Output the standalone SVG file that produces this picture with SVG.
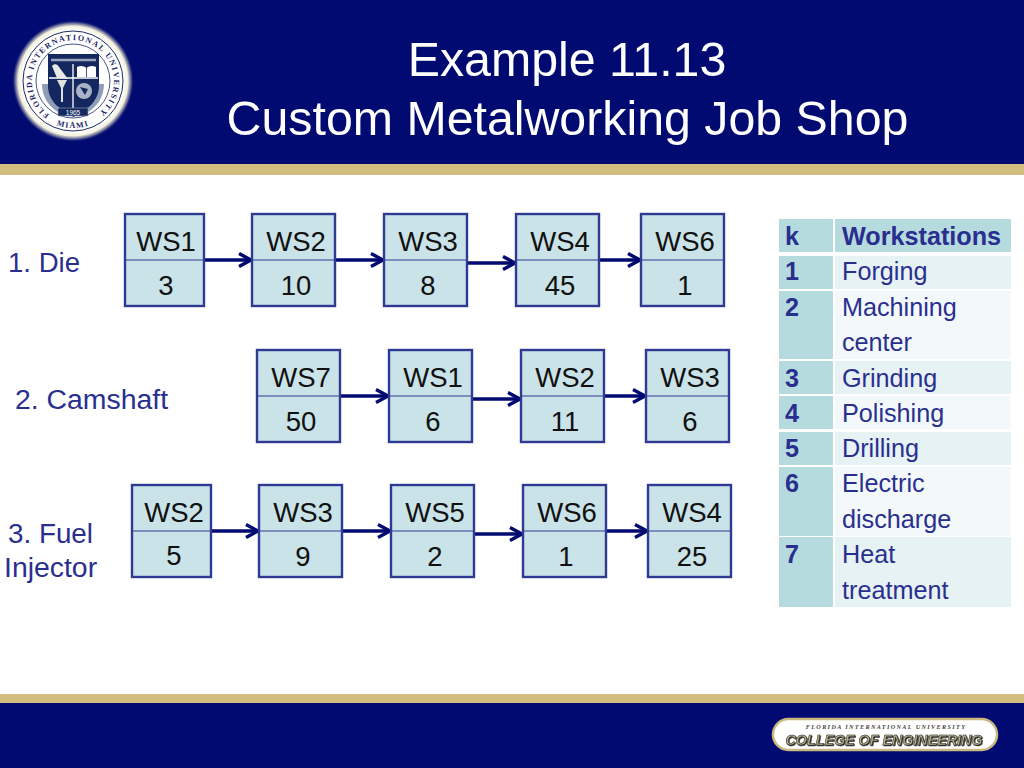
<svg xmlns="http://www.w3.org/2000/svg" width="1024" height="768" viewBox="0 0 1024 768">
<style>
.box{fill:#c9e3e8;stroke:#2f3a92;stroke-width:2.4}
.div{stroke:#2f3a92;stroke-width:1.2;fill:none}
.t{font-family:"Liberation Sans",Arial,sans-serif;font-size:27.5px;fill:#111;text-anchor:middle}
.lab{font-family:"Liberation Sans",Arial,sans-serif;font-size:28.4px;fill:#2a2f8f}
.title{font-family:"Liberation Sans",Arial,sans-serif;font-size:48.3px;fill:#fff;text-anchor:middle}
.c{stroke:#000a70;stroke-width:3.4;fill:none;marker-end:url(#a)}
.cell{font-family:"Liberation Sans",Arial,sans-serif;font-size:25.2px;fill:#2a2f8f}
.b{font-weight:bold}
.seal{font-family:"Liberation Serif",serif;font-weight:bold;font-size:8px;fill:#1d2a66}
</style>
<defs>
<marker id="a" markerUnits="userSpaceOnUse" markerWidth="18" markerHeight="18" refX="15" refY="8" orient="auto"><path d="M2 1.500L14 8L2 14.500" fill="none" stroke="#000a70" stroke-width="3.400"/></marker>
<radialGradient id="glow"><stop offset="0.82" stop-color="#fff"/><stop offset="0.9" stop-color="#f2f0dc"/><stop offset="0.95" stop-color="#8f90a8" stop-opacity="0.7"/><stop offset="1" stop-color="#000a70" stop-opacity="0"/></radialGradient>
<filter id="sh" x="-5%" y="-30%" width="110%" height="160%"><feDropShadow dx="0.8" dy="0.8" stdDeviation="0.5" flood-color="#111"/></filter>
<path id="sealtop" d="M49.500 114.600A41 41 0 1 1 96.500 114.600"/>
<path id="sealbot" d="M39 114A48 48 0 0 0 107 114"/>
</defs>
<g id="background">
<rect width="1024" height="768" fill="#fff"/>
<rect width="1024" height="164" fill="#000a70"/>
<rect y="164" width="1024" height="11" fill="#d2bf80"/>
<rect y="694" width="1024" height="9" fill="#d2bf80"/>
<rect y="703" width="1024" height="65" fill="#000a70"/>
</g>
<g id="seal">
<circle cx="73" cy="81" r="61" fill="url(#glow)"/>
<circle cx="73" cy="81" r="50" fill="none" stroke="#1d2a66" stroke-width="1"/>
<circle cx="73" cy="81" r="37" fill="none" stroke="#1d2a66" stroke-width="0.800"/>
<path d="M42 84C42 98 50 108 60 113L50 84Z M104 84C104 98 96 108 86 113L96 84Z" fill="#8d9db8"/>
<path d="M48 54H99V86C99 100 88 110 73.500 117C59 110 48 100 48 86Z" fill="#14285f"/>
<path d="M51 60H96" stroke="#9aa4bd" stroke-width="2.500"/>
<path d="M73 64V112M49 78H98" stroke="#fff" stroke-width="1.300"/>
<path d="M77 67C81 65 84 66 86.500 68C89 66 92 65 96 67V77H77Z" fill="#fff"/>
<path d="M86.500 68V77" stroke="#14285f" stroke-width="0.800"/>
<path d="M52 66C54 63 58 64 59 67L68 79L57 78Z" fill="#e9e9e9"/>
<path d="M57 80H67L63 88V102H61V88Z" fill="#e0e0e0"/>
<circle cx="84" cy="91" r="8" fill="#aab2c6"/>
<path d="M80 87L88 89L85 95Z" fill="#14285f"/>
<rect x="58" y="108" width="30" height="8" fill="#14285f" stroke="#9aa4bd" stroke-width="0.600"/>
<text x="73" y="114.500" font-family="Liberation Sans,sans-serif" font-size="6.500" fill="#fff" text-anchor="middle">1965</text>
<text class="seal" letter-spacing="1.450"><textPath href="#sealtop">FLORIDA INTERNATIONAL UNIVERSITY</textPath></text>
<text class="seal" letter-spacing="1.300" text-anchor="middle"><textPath href="#sealbot" startOffset="50%">MIAMI</textPath></text>
</g>
<g id="title">
<text class="title" x="567" y="76">Example 11.13</text>
<text class="title" x="567.500" y="135">Custom Metalworking Job Shop</text>
</g>
<g id="labels">
<text class="lab" x="8" y="272" font-size="27.600" style="font-size:27.600px">1. Die</text>
<text class="lab" x="15" y="409">2. Camshaft</text>
<text class="lab" x="8" y="543" style="font-size:27.800px">3. Fuel</text>
<text class="lab" x="4" y="577">Injector</text>
</g>
<g id="connectors">
<path class="c" d="M204 260H252"/><path class="c" d="M335 260H384"/><path class="c" d="M467 263H516"/><path class="c" d="M599 260H641"/>
<path class="c" d="M340 396H389"/><path class="c" d="M472 399H521"/><path class="c" d="M604 396H646"/>
<path class="c" d="M211 531H259"/><path class="c" d="M342 531H391"/><path class="c" d="M474 534H523"/><path class="c" d="M606 531H648"/>
</g>
<g id="n1"><rect class="box" x="125" y="214" width="79" height="92"/><path class="div" d="M125 260H204"/><text class="t" x="166" y="251">WS1</text><text class="t" x="166" y="295">3</text></g>
<g id="n2"><rect class="box" x="252" y="214" width="83" height="92"/><path class="div" d="M252 260H335"/><text class="t" x="296" y="251">WS2</text><text class="t" x="296" y="295">10</text></g>
<g id="n3"><rect class="box" x="384" y="214" width="83" height="92"/><path class="div" d="M384 260H467"/><text class="t" x="428" y="251">WS3</text><text class="t" x="428" y="295">8</text></g>
<g id="n4"><rect class="box" x="516" y="214" width="83" height="92"/><path class="div" d="M516 260H599"/><text class="t" x="560" y="251">WS4</text><text class="t" x="560" y="295">45</text></g>
<g id="n5"><rect class="box" x="641" y="214" width="83" height="92"/><path class="div" d="M641 260H724"/><text class="t" x="685" y="251">WS6</text><text class="t" x="685" y="295">1</text></g>
<g id="n6"><rect class="box" x="257" y="350" width="83" height="92"/><path class="div" d="M257 396H340"/><text class="t" x="301" y="387">WS7</text><text class="t" x="301" y="431">50</text></g>
<g id="n7"><rect class="box" x="389" y="350" width="83" height="92"/><path class="div" d="M389 396H472"/><text class="t" x="433" y="387">WS1</text><text class="t" x="433" y="431">6</text></g>
<g id="n8"><rect class="box" x="521" y="350" width="83" height="92"/><path class="div" d="M521 396H604"/><text class="t" x="565" y="387">WS2</text><text class="t" x="565" y="431">11</text></g>
<g id="n9"><rect class="box" x="646" y="350" width="83" height="92"/><path class="div" d="M646 396H729"/><text class="t" x="690" y="387">WS3</text><text class="t" x="690" y="431">6</text></g>
<g id="n10"><rect class="box" x="132" y="485" width="79" height="92"/><path class="div" d="M132 531H211"/><text class="t" x="174" y="522">WS2</text><text class="t" x="174" y="565">5</text></g>
<g id="n11"><rect class="box" x="259" y="485" width="83" height="92"/><path class="div" d="M259 531H342"/><text class="t" x="303" y="522">WS3</text><text class="t" x="303" y="566">9</text></g>
<g id="n12"><rect class="box" x="391" y="485" width="83" height="92"/><path class="div" d="M391 531H474"/><text class="t" x="435" y="522">WS5</text><text class="t" x="435" y="566">2</text></g>
<g id="n13"><rect class="box" x="523" y="485" width="83" height="92"/><path class="div" d="M523 531H606"/><text class="t" x="567" y="522">WS6</text><text class="t" x="566" y="566">1</text></g>
<g id="n14"><rect class="box" x="648" y="485" width="83" height="92"/><path class="div" d="M648 531H731"/><text class="t" x="692" y="522">WS4</text><text class="t" x="692" y="566">25</text></g>
<g id="table">
<g fill="#b5dbde">
<rect x="779" y="219" width="54" height="33"/><rect x="835" y="219" width="176" height="33"/>
<rect x="779" y="256" width="54" height="33"/><rect x="779" y="291" width="54" height="68"/><rect x="779" y="361" width="54" height="33"/><rect x="779" y="396" width="54" height="33"/><rect x="779" y="432" width="54" height="33"/><rect x="779" y="467" width="54" height="69"/><rect x="779" y="537" width="54" height="70"/>
</g>
<rect x="835" y="256" width="176" height="33" fill="#e6f2f4"/>
<rect x="835" y="291" width="176" height="68" fill="#f3f9fa"/>
<rect x="835" y="361" width="176" height="33" fill="#e6f2f4"/>
<rect x="835" y="396" width="176" height="33" fill="#f3f9fa"/>
<rect x="835" y="432" width="176" height="33" fill="#e6f2f4"/>
<rect x="835" y="467" width="176" height="69" fill="#f3f9fa"/>
<rect x="835" y="537" width="176" height="70" fill="#e6f2f4"/>
<g class="cell b">
<text x="785" y="245">k</text><text x="842" y="245">Workstations</text>
<text x="785" y="280">1</text><text x="785" y="316">2</text><text x="785" y="387">3</text><text x="785" y="422">4</text><text x="785" y="457">5</text><text x="785" y="492">6</text><text x="785" y="563">7</text>
</g>
<g class="cell">
<text x="842" y="280">Forging</text><text x="842" y="316">Machining</text><text x="842" y="351">center</text><text x="842" y="387">Grinding</text><text x="842" y="422">Polishing</text><text x="842" y="457">Drilling</text><text x="842" y="492">Electric</text><text x="842" y="528">discharge</text><text x="842" y="563">Heat</text><text x="842" y="599">treatment</text>
</g>
</g>
<g id="logo">
<rect x="773" y="719" width="224" height="31" rx="15.500" fill="#fff" stroke="#c9b97f" stroke-width="2.500"/>
<text x="886" y="728.500" font-family="Liberation Serif,serif" font-weight="bold" font-style="italic" font-size="6.200" letter-spacing="1.350" fill="#444" text-anchor="middle">FLORIDA INTERNATIONAL UNIVERSITY</text>
<text x="884" y="744.500" font-family="Liberation Sans,sans-serif" font-weight="bold" font-style="italic" font-size="14.300" fill="#b2b188" stroke="#2a2a2a" stroke-width="0.500" text-anchor="middle" filter="url(#sh)">COLLEGE OF ENGINEERING</text>
</g>
</svg>
